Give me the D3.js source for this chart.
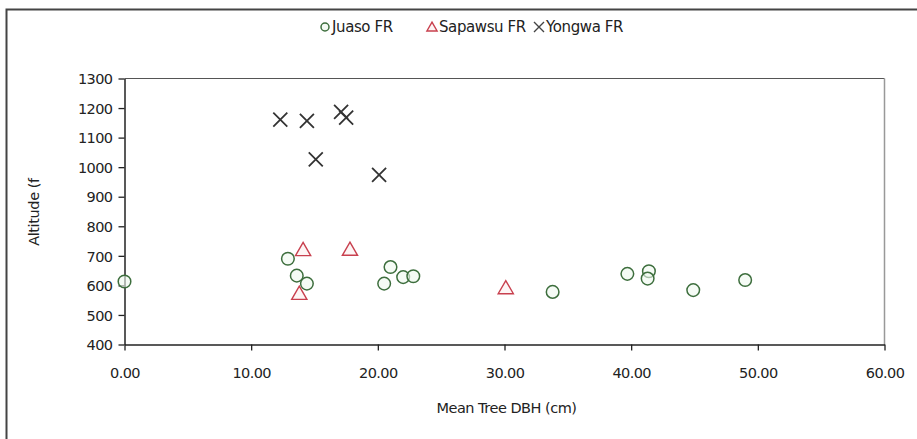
<!DOCTYPE html>
<html><head><meta charset="utf-8">
<script src="https://cdn.jsdelivr.net/npm/d3@7"></script>
<style>
html,body{margin:0;padding:0;background:#fff;}
text{font-family:"DejaVu Sans",sans-serif;fill:#222;}
</style></head>
<body>
<svg id="c" width="917" height="439"></svg>
<script>
const seriesNames = ["Juaso FR", "Sapawsu FR", "Yongwa FR"];
const juasoDBH = [0.0, 12.9, 13.6, 14.4, 21.0, 20.5, 22.0, 22.8, 33.8, 39.7, 41.4, 41.3, 44.9, 49.0];
const juasoAlt = [613, 690, 633, 606, 662, 606, 628, 631, 578, 639, 648, 623, 584, 618];
const sapawsuDBH = [14.1, 17.8, 13.8, 30.1];
const sapawsuAlt = [719, 720, 571, 590];
const yongwaDBH = [12.3, 14.4, 15.1, 17.1, 17.5, 20.1];
const yongwaAlt = [1161, 1157, 1026, 1187, 1168, 974];
const xTicks = [0, 10, 20, 30, 40, 50, 60];
const yTicks = [400, 500, 600, 700, 800, 900, 1000, 1100, 1200, 1300];
const xTitle = "Mean Tree DBH (cm)";
const yTitle = "Altitude (f";

const FONT = 14.5;
const svg = d3.select("#c");
// outer frame
svg.append("rect").attr("x", 6.5).attr("y", 9.5).attr("width", 912).attr("height", 440)
  .attr("fill", "none").attr("stroke", "#444").attr("stroke-width", 2);

const x = d3.scaleLinear().domain([0, 60]).range([124.5, 884.5]);
const y = d3.scaleLinear().domain([400, 1300]).range([344.5, 78.5]);

// plot border top/right
svg.append("line").attr("x1", x(0)).attr("x2", x(60)).attr("y1", y(1300)).attr("y2", y(1300))
  .attr("stroke", "#555").attr("stroke-width", 1);
svg.append("line").attr("x1", x(60)).attr("x2", x(60)).attr("y1", y(1300)).attr("y2", y(400))
  .attr("stroke", "#999").attr("stroke-width", 1.5);

const xAxis = svg.append("g").attr("transform", `translate(0,${y(400)})`)
  .call(d3.axisBottom(x).tickValues(xTicks).tickFormat(d3.format(".2f")).tickSize(6).tickPadding(17).tickSizeOuter(0));
const yAxis = svg.append("g").attr("transform", `translate(${x(0)},0)`)
  .call(d3.axisLeft(y).tickValues(yTicks).tickFormat(d3.format("d")).tickSize(6).tickPadding(6).tickSizeOuter(0));
[xAxis, yAxis].forEach(g => {
  g.select(".domain").attr("stroke", "#222").attr("stroke-width", 1.5);
  g.selectAll(".tick line").attr("stroke", "#222").attr("stroke-width", 1.3);
  g.selectAll("text").attr("font-family", "DejaVu Sans, sans-serif")
    .attr("font-size", FONT).attr("fill", "#222").style("letter-spacing", "-0.6px");
});
yAxis.selectAll("text").attr("dy", "0.36em");

svg.append("text").attr("x", (x(0) + x(60)) / 2 + 2).attr("y", 413).attr("text-anchor", "middle")
  .attr("font-size", FONT).style("letter-spacing", "-0.5px").text(xTitle);
svg.append("text").attr("transform", `translate(39,212) rotate(-90)`).attr("text-anchor", "middle")
  .attr("font-size", FONT).style("letter-spacing", "-0.4px").text(yTitle);

const juaso = juasoDBH.map((d, i) => ({x: d, y: juasoAlt[i]}));
const sap = sapawsuDBH.map((d, i) => ({x: d, y: sapawsuAlt[i]}));
const yong = yongwaDBH.map((d, i) => ({x: d, y: yongwaAlt[i]}));

const circleStyle = s => s.attr("fill", "#eef8ee").attr("fill-opacity", 0.6).attr("stroke", "#3d6e3d").attr("stroke-width", 1.5);
const triPath = d3.symbol().type(d3.symbolTriangle).size(100);
const triStyle = s => s.attr("fill", "#fbeeee").attr("fill-opacity", 0.6).attr("stroke", "#c8404e").attr("stroke-width", 1.4);
const crossPath = r => `M${-r},${-r}L${r},${r}M${-r},${r}L${r},${-r}`;
const crossStyle = s => s.attr("fill", "none").attr("stroke", "#333").attr("stroke-width", 1.8);

svg.append("g").selectAll("circle").data(juaso).join("circle")
  .attr("cx", d => x(d.x)).attr("cy", d => y(d.y)).attr("r", 6.3).call(circleStyle);
svg.append("g").selectAll("path").data(sap).join("path")
  .attr("transform", d => `translate(${x(d.x)},${y(d.y) + 1})`).attr("d", triPath).call(triStyle);
svg.append("g").selectAll("path").data(yong).join("path")
  .attr("transform", d => `translate(${x(d.x)},${y(d.y)})`).attr("d", crossPath(7)).call(crossStyle);

// legend (equal-width entries, as in the original)
const lg = svg.append("g").attr("transform", "translate(0,27)");
const legendStart = 325, legendStep = 107;
const kinds = ["c", "t", "x"];
seriesNames.forEach((name, i) => {
  const k = kinds[i];
  const cx = legendStart + i * legendStep;
  if (k === "c") lg.append("circle").attr("cx", cx).attr("cy", 0).attr("r", 4).call(circleStyle);
  else if (k === "t") lg.append("path").attr("transform", `translate(${cx},1)`).attr("d", d3.symbol().type(d3.symbolTriangle).size(45)).call(triStyle);
  else lg.append("path").attr("transform", `translate(${cx},0)`).attr("d", crossPath(5)).attr("fill", "none").attr("stroke", "#444").attr("stroke-width", 1.4);
  lg.append("text").attr("x", cx + 7).attr("y", 0).attr("dy", "0.36em").attr("font-size", 15)
    .style("letter-spacing", "-0.4px").text(name);
});
</script>
</body></html>
